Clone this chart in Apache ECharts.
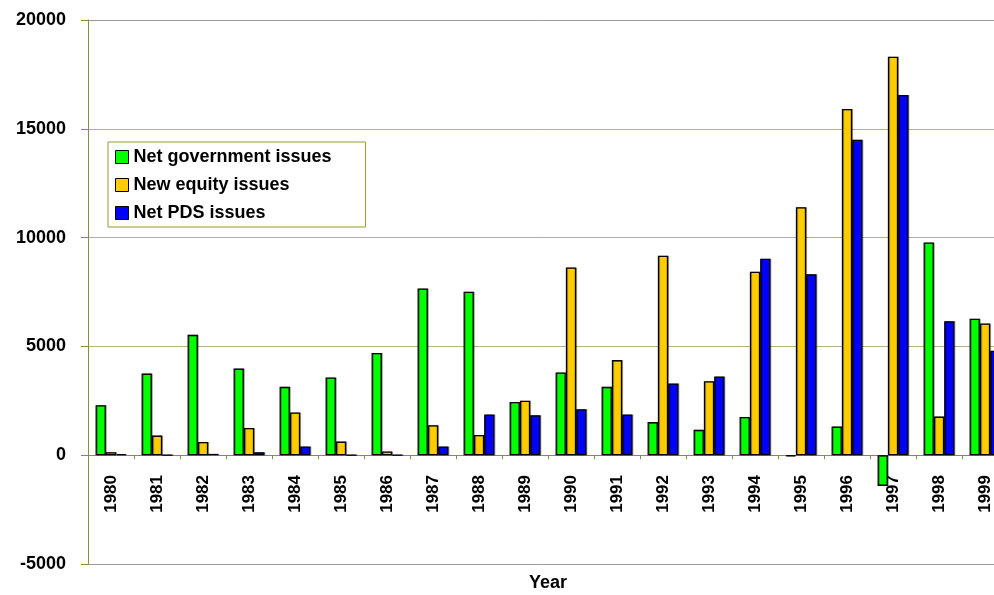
<!DOCTYPE html>
<html>
<head>
<meta charset="utf-8">
<script src="https://cdn.jsdelivr.net/npm/echarts@6/dist/echarts.min.js"></script>
<style>
html,body{margin:0;padding:0;background:#fff;}
#chart{width:994px;height:595px;}
</style>
</head>
<body>
<div id="chart"></div>
<script>
const years = ['1980','1981','1982','1983','1984','1985','1986','1987','1988','1989','1990','1991','1992','1993','1994','1995','1996','1997','1998','1999'];
const netGovernment = [2300, 3750, 5530, 3980, 3140, 3570, 4700, 7660, 7510, 2450, 3800, 3140, 1520, 1165, 1760, -50, 1315, -1410, 9775, 6270];
const newEquity = [140, 900, 610, 1255, 1960, 625, 170, 1380, 930, 2500, 8630, 4370, 9165, 3400, 8430, 11400, 15910, 18315, 1775, 6050];
const netPDS = [50, 0, 60, 140, 400, 0, 0, 400, 1870, 1840, 2115, 1870, 3300, 3615, 9030, 8320, 14500, 16550, 6160, 4800];
const seriesNames = ['Net government issues', 'New equity issues', 'Net PDS issues'];
const seriesColors = ['#00ff00', '#ffcc00', '#0000ff'];
const yTicks = [-5000, 20000, 5000];

const chart = echarts.init(document.getElementById('chart'), null, {renderer: 'canvas'});
const font = 'Liberation Sans, Arial, sans-serif';
const olive = '#8c8c3c';

function mkSeries(name, data, color) {
  return {
    name: name,
    type: 'bar',
    data: data,
    barWidth: 10.3,
    barGap: '0%',
    itemStyle: {color: color, borderColor: '#000', borderWidth: 1.3, shadowColor: 'rgba(0,0,0,0.3)', shadowOffsetX: 1, shadowOffsetY: 0, shadowBlur: 0},
    emphasis: {disabled: true}
  };
}

chart.setOption({
  animation: false,
  backgroundColor: '#fff',
  grid: {left: 88, right: -14, top: 20, bottom: 31, containLabel: false, outerBoundsMode: 'none'},
  legend: {
    orient: 'vertical',
    left: 108,
    top: 142,
    padding: [6, 34, 5, 7],
    itemGap: 10,
    itemWidth: 13,
    itemHeight: 13,
    borderColor: '#999933',
    borderWidth: 1,
    icon: 'rect',
    textStyle: {fontFamily: font, fontWeight: 'bold', fontSize: 18, color: '#000', lineHeight: 18},
    itemStyle: {borderColor: '#000', borderWidth: 1, shadowBlur: 0, shadowOffsetX: 0},
    data: seriesNames
  },
  xAxis: {
    type: 'category',
    data: years,
    name: 'Year',
    nameLocation: 'middle',
    nameGap: 10,
    nameTextStyle: {fontFamily: font, fontWeight: 'bold', fontSize: 18, color: '#000'},
    axisLine: {show: true, onZero: true, lineStyle: {color: olive, width: 1}},
    axisTick: {show: true, length: 4, lineStyle: {color: olive}},
    axisLabel: {rotate: 90, margin: -89, fontFamily: font, fontWeight: 'bold', fontSize: 17, color: '#000'},
    splitLine: {show: false}
  },
  yAxis: {
    type: 'value',
    min: yTicks[0],
    max: yTicks[1],
    interval: yTicks[2],
    axisLine: {show: true, lineStyle: {color: olive, width: 1}},
    axisTick: {show: true, length: 7, lineStyle: {color: olive}},
    axisLabel: {margin: 22, fontFamily: font, fontWeight: 'bold', fontSize: 18, color: '#000', formatter: function (v) { return String(v); }},
    splitLine: {show: true, lineStyle: {color: ['#9a9a9a', '#b4b478', '#b4b478', '#b4b478', '#b4b478', '#9a9a9a'], width: 1}}
  },
  series: [
    mkSeries(seriesNames[0], netGovernment, seriesColors[0]),
    mkSeries(seriesNames[1], newEquity, seriesColors[1]),
    mkSeries(seriesNames[2], netPDS, seriesColors[2])
  ]
});
</script>
</body>
</html>
